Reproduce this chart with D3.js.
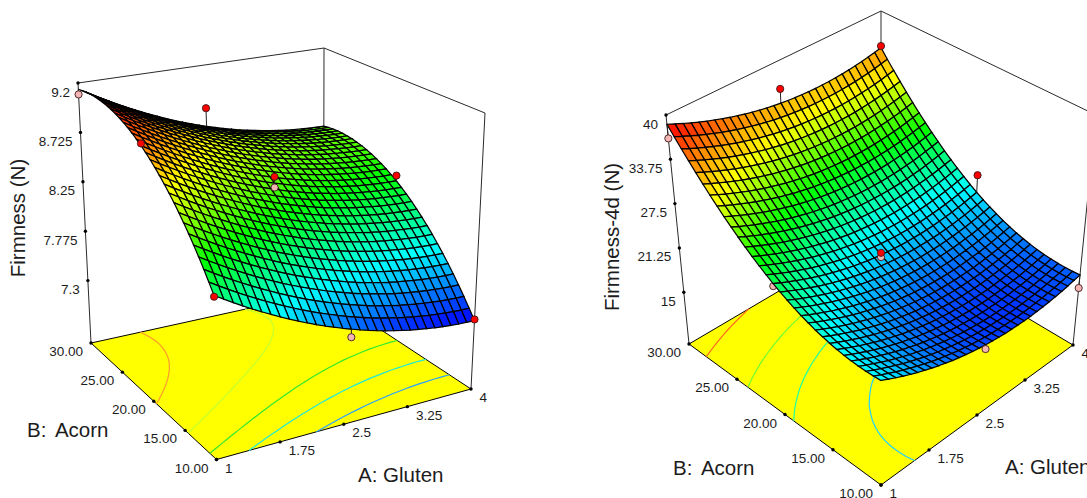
<!DOCTYPE html>
<html>
<head>
<meta charset="utf-8">
<script src="https://cdn.jsdelivr.net/npm/d3@7"></script>
<style>
	html, body { margin: 0; background: #fff; overflow: hidden; }
	text { font-family: "Liberation Sans", Arial, sans-serif; fill: #1c1c1c; white-space: pre; }
</style>
</head>
<body>
<svg id="chart" width="1087" height="498"></svg>
<script>
// rows run B = 10 -> 30, columns run A = 1 -> 4
const firmnessGrid = [
	[8.060,8.012,7.966,7.921,7.878,7.837,7.797,7.759,7.722,7.687,7.653,7.621,7.591,7.563,7.535,7.510,7.486,7.464,7.443,7.424,7.407,7.391,7.376,7.364,7.353,7.343,7.335,7.329,7.324,7.321,7.320],
	[8.141,8.093,8.047,8.002,7.959,7.918,7.878,7.840,7.803,7.768,7.734,7.702,7.672,7.644,7.616,7.591,7.567,7.545,7.524,7.505,7.488,7.472,7.457,7.445,7.434,7.424,7.416,7.410,7.405,7.402,7.401],
	[8.219,8.171,8.125,8.080,8.037,7.996,7.956,7.918,7.881,7.846,7.812,7.780,7.750,7.722,7.694,7.669,7.645,7.623,7.602,7.583,7.566,7.550,7.535,7.523,7.512,7.502,7.494,7.488,7.483,7.480,7.479],
	[8.294,8.246,8.200,8.155,8.112,8.071,8.031,7.993,7.956,7.921,7.887,7.855,7.825,7.797,7.769,7.744,7.720,7.698,7.677,7.658,7.641,7.625,7.610,7.598,7.587,7.577,7.569,7.563,7.558,7.555,7.554],
	[8.366,8.318,8.272,8.227,8.184,8.143,8.103,8.065,8.028,7.993,7.959,7.927,7.897,7.869,7.841,7.816,7.792,7.770,7.749,7.730,7.713,7.697,7.682,7.670,7.659,7.649,7.641,7.635,7.630,7.627,7.626],
	[8.434,8.386,8.340,8.295,8.252,8.211,8.171,8.133,8.096,8.061,8.027,7.995,7.965,7.937,7.909,7.884,7.860,7.838,7.817,7.798,7.781,7.765,7.750,7.738,7.727,7.717,7.709,7.703,7.698,7.695,7.694],
	[8.500,8.452,8.406,8.361,8.318,8.277,8.237,8.199,8.162,8.127,8.093,8.061,8.031,8.003,7.975,7.950,7.926,7.904,7.883,7.864,7.847,7.831,7.816,7.804,7.793,7.783,7.775,7.769,7.764,7.761,7.760],
	[8.562,8.514,8.468,8.423,8.380,8.339,8.299,8.261,8.224,8.189,8.155,8.123,8.093,8.065,8.037,8.012,7.988,7.966,7.945,7.926,7.909,7.893,7.878,7.866,7.855,7.845,7.837,7.831,7.826,7.823,7.822],
	[8.622,8.574,8.528,8.483,8.440,8.399,8.359,8.321,8.284,8.249,8.215,8.183,8.153,8.125,8.097,8.072,8.048,8.026,8.005,7.986,7.969,7.953,7.938,7.926,7.915,7.905,7.897,7.891,7.886,7.883,7.882],
	[8.678,8.630,8.584,8.539,8.496,8.455,8.415,8.377,8.340,8.305,8.271,8.239,8.209,8.181,8.153,8.128,8.104,8.082,8.061,8.042,8.025,8.009,7.994,7.982,7.971,7.961,7.953,7.947,7.942,7.939,7.938],
	[8.731,8.683,8.637,8.592,8.549,8.508,8.468,8.430,8.393,8.358,8.324,8.292,8.262,8.234,8.206,8.181,8.157,8.135,8.114,8.095,8.078,8.062,8.047,8.035,8.024,8.014,8.006,8.000,7.995,7.992,7.991],
	[8.781,8.733,8.687,8.642,8.599,8.558,8.518,8.480,8.443,8.408,8.374,8.342,8.312,8.284,8.256,8.231,8.207,8.185,8.164,8.145,8.128,8.112,8.097,8.085,8.074,8.064,8.056,8.050,8.045,8.042,8.041],
	[8.828,8.780,8.734,8.689,8.646,8.605,8.565,8.527,8.490,8.455,8.421,8.389,8.359,8.331,8.303,8.278,8.254,8.232,8.211,8.192,8.175,8.159,8.144,8.132,8.121,8.111,8.103,8.097,8.092,8.089,8.088],
	[8.872,8.824,8.778,8.733,8.690,8.649,8.609,8.571,8.534,8.499,8.465,8.433,8.403,8.375,8.347,8.322,8.298,8.276,8.255,8.236,8.219,8.203,8.188,8.176,8.165,8.155,8.147,8.141,8.136,8.133,8.132],
	[8.912,8.864,8.818,8.773,8.730,8.689,8.649,8.611,8.574,8.539,8.505,8.473,8.443,8.415,8.387,8.362,8.338,8.316,8.295,8.276,8.259,8.243,8.228,8.216,8.205,8.195,8.187,8.181,8.176,8.173,8.172],
	[8.950,8.902,8.856,8.811,8.768,8.727,8.687,8.649,8.612,8.577,8.543,8.511,8.481,8.453,8.425,8.400,8.376,8.354,8.333,8.314,8.297,8.281,8.266,8.254,8.243,8.233,8.225,8.219,8.214,8.211,8.210],
	[8.984,8.936,8.890,8.845,8.802,8.761,8.721,8.683,8.646,8.611,8.577,8.545,8.515,8.487,8.459,8.434,8.410,8.388,8.367,8.348,8.331,8.315,8.300,8.288,8.277,8.267,8.259,8.253,8.248,8.245,8.244],
	[9.016,8.968,8.922,8.877,8.834,8.793,8.753,8.715,8.678,8.643,8.609,8.577,8.547,8.519,8.491,8.466,8.442,8.420,8.399,8.380,8.363,8.347,8.332,8.320,8.309,8.299,8.291,8.285,8.280,8.277,8.276],
	[9.044,8.996,8.950,8.905,8.862,8.821,8.781,8.743,8.706,8.671,8.637,8.605,8.575,8.547,8.519,8.494,8.470,8.448,8.427,8.408,8.391,8.375,8.360,8.348,8.337,8.327,8.319,8.313,8.308,8.305,8.304],
	[9.069,9.021,8.975,8.930,8.887,8.846,8.806,8.768,8.731,8.696,8.662,8.630,8.600,8.572,8.544,8.519,8.495,8.473,8.452,8.433,8.416,8.400,8.385,8.373,8.362,8.352,8.344,8.338,8.333,8.330,8.329],
	[9.091,9.043,8.997,8.952,8.909,8.868,8.828,8.790,8.753,8.718,8.684,8.652,8.622,8.594,8.566,8.541,8.517,8.495,8.474,8.455,8.438,8.422,8.407,8.395,8.384,8.374,8.366,8.360,8.355,8.352,8.351],
	[9.110,9.062,9.016,8.971,8.928,8.887,8.847,8.809,8.772,8.737,8.703,8.671,8.641,8.613,8.585,8.560,8.536,8.514,8.493,8.474,8.457,8.441,8.426,8.414,8.403,8.393,8.385,8.379,8.374,8.371,8.370],
	[9.126,9.078,9.032,8.987,8.944,8.903,8.863,8.825,8.788,8.753,8.719,8.687,8.657,8.629,8.601,8.576,8.552,8.530,8.509,8.490,8.473,8.457,8.442,8.430,8.419,8.409,8.401,8.395,8.390,8.387,8.386],
	[9.138,9.090,9.044,8.999,8.956,8.915,8.875,8.837,8.800,8.765,8.731,8.699,8.669,8.641,8.613,8.588,8.564,8.542,8.521,8.502,8.485,8.469,8.454,8.442,8.431,8.421,8.413,8.407,8.402,8.399,8.398],
	[9.148,9.100,9.054,9.009,8.966,8.925,8.885,8.847,8.810,8.775,8.741,8.709,8.679,8.651,8.623,8.598,8.574,8.552,8.531,8.512,8.495,8.479,8.464,8.452,8.441,8.431,8.423,8.417,8.412,8.409,8.408],
	[9.154,9.106,9.060,9.015,8.972,8.931,8.891,8.853,8.816,8.781,8.747,8.715,8.685,8.657,8.629,8.604,8.580,8.558,8.537,8.518,8.501,8.485,8.470,8.458,8.447,8.437,8.429,8.423,8.418,8.415,8.414],
	[9.158,9.110,9.064,9.019,8.976,8.935,8.895,8.857,8.820,8.785,8.751,8.719,8.689,8.661,8.633,8.608,8.584,8.562,8.541,8.522,8.505,8.489,8.474,8.462,8.451,8.441,8.433,8.427,8.422,8.419,8.418],
	[9.158,9.110,9.064,9.019,8.976,8.935,8.895,8.857,8.820,8.785,8.751,8.719,8.689,8.661,8.633,8.608,8.584,8.562,8.541,8.522,8.505,8.489,8.474,8.462,8.451,8.441,8.433,8.427,8.422,8.419,8.418],
	[9.155,9.107,9.061,9.016,8.973,8.932,8.892,8.854,8.817,8.782,8.748,8.716,8.686,8.658,8.630,8.605,8.581,8.559,8.538,8.519,8.502,8.486,8.471,8.459,8.448,8.438,8.430,8.424,8.419,8.416,8.415],
	[9.149,9.101,9.055,9.010,8.967,8.926,8.886,8.848,8.811,8.776,8.742,8.710,8.680,8.652,8.624,8.599,8.575,8.553,8.532,8.513,8.496,8.480,8.465,8.453,8.442,8.432,8.424,8.418,8.413,8.410,8.409],
	[9.140,9.092,9.046,9.001,8.958,8.917,8.877,8.839,8.802,8.767,8.733,8.701,8.671,8.643,8.615,8.590,8.566,8.544,8.523,8.504,8.487,8.471,8.456,8.444,8.433,8.423,8.415,8.409,8.404,8.401,8.400]
]

const firmness4dGrid = [
	[21.65,21.15,20.68,20.23,19.81,19.41,19.04,18.69,18.37,18.07,17.79,17.55,17.32,17.12,16.95,16.80,16.68,16.58,16.50,16.45,16.43,16.43,16.45,16.50,16.58,16.68,16.80,16.95,17.13,17.33,17.55],
	[21.57,21.07,20.60,20.15,19.73,19.33,18.96,18.61,18.29,17.99,17.71,17.47,17.24,17.04,16.87,16.72,16.60,16.50,16.42,16.37,16.35,16.35,16.37,16.42,16.50,16.60,16.72,16.87,17.05,17.25,17.47],
	[21.54,21.04,20.57,20.12,19.70,19.30,18.93,18.58,18.26,17.96,17.68,17.44,17.21,17.01,16.84,16.69,16.57,16.47,16.39,16.34,16.32,16.32,16.34,16.39,16.47,16.57,16.69,16.84,17.02,17.22,17.44],
	[21.55,21.05,20.58,20.13,19.71,19.31,18.94,18.59,18.27,17.97,17.69,17.45,17.22,17.02,16.85,16.70,16.58,16.48,16.40,16.35,16.33,16.33,16.35,16.40,16.48,16.58,16.70,16.85,17.03,17.23,17.45],
	[21.60,21.10,20.63,20.18,19.76,19.36,18.99,18.64,18.32,18.02,17.74,17.50,17.27,17.07,16.90,16.75,16.63,16.53,16.45,16.40,16.38,16.38,16.40,16.45,16.53,16.63,16.75,16.90,17.08,17.28,17.50],
	[21.70,21.20,20.73,20.28,19.86,19.46,19.09,18.74,18.42,18.12,17.84,17.60,17.37,17.17,17.00,16.85,16.73,16.63,16.55,16.50,16.48,16.48,16.50,16.55,16.63,16.73,16.85,17.00,17.18,17.38,17.60],
	[21.84,21.34,20.87,20.42,20.00,19.60,19.23,18.88,18.56,18.26,17.98,17.74,17.51,17.31,17.14,16.99,16.87,16.77,16.69,16.64,16.62,16.62,16.64,16.69,16.77,16.87,16.99,17.14,17.32,17.52,17.74],
	[22.03,21.53,21.06,20.61,20.19,19.79,19.42,19.07,18.75,18.45,18.17,17.93,17.70,17.50,17.33,17.18,17.06,16.96,16.88,16.83,16.81,16.81,16.83,16.88,16.96,17.06,17.18,17.33,17.51,17.71,17.93],
	[22.27,21.77,21.30,20.85,20.43,20.03,19.66,19.31,18.99,18.69,18.41,18.17,17.94,17.74,17.57,17.42,17.30,17.20,17.12,17.07,17.05,17.05,17.07,17.12,17.20,17.30,17.42,17.57,17.75,17.95,18.17],
	[22.54,22.04,21.57,21.12,20.70,20.30,19.93,19.58,19.26,18.96,18.68,18.44,18.21,18.01,17.84,17.69,17.57,17.47,17.39,17.34,17.32,17.32,17.34,17.39,17.47,17.57,17.69,17.84,18.02,18.22,18.44],
	[22.87,22.37,21.90,21.45,21.03,20.63,20.26,19.91,19.59,19.29,19.01,18.77,18.54,18.34,18.17,18.02,17.90,17.80,17.72,17.67,17.65,17.65,17.67,17.72,17.80,17.90,18.02,18.17,18.35,18.55,18.77],
	[23.23,22.73,22.26,21.81,21.39,20.99,20.62,20.27,19.95,19.65,19.37,19.13,18.90,18.70,18.53,18.38,18.26,18.16,18.08,18.03,18.01,18.01,18.03,18.08,18.16,18.26,18.38,18.53,18.71,18.91,19.13],
	[23.65,23.15,22.68,22.23,21.81,21.41,21.04,20.69,20.37,20.07,19.79,19.55,19.32,19.12,18.95,18.80,18.68,18.58,18.50,18.45,18.43,18.43,18.45,18.50,18.58,18.68,18.80,18.95,19.13,19.33,19.55],
	[24.10,23.60,23.13,22.68,22.26,21.86,21.49,21.14,20.82,20.52,20.24,20.00,19.77,19.57,19.40,19.25,19.13,19.03,18.95,18.90,18.88,18.88,18.90,18.95,19.03,19.13,19.25,19.40,19.58,19.78,20.00],
	[24.60,24.10,23.63,23.18,22.76,22.36,21.99,21.64,21.32,21.02,20.74,20.50,20.27,20.07,19.90,19.75,19.63,19.53,19.45,19.40,19.38,19.38,19.40,19.45,19.53,19.63,19.75,19.90,20.08,20.28,20.50],
	[25.15,24.65,24.18,23.73,23.31,22.91,22.54,22.19,21.87,21.57,21.29,21.05,20.82,20.62,20.45,20.30,20.18,20.08,20.00,19.95,19.93,19.93,19.95,20.00,20.08,20.18,20.30,20.45,20.63,20.83,21.05],
	[25.74,25.24,24.77,24.32,23.90,23.50,23.13,22.78,22.46,22.16,21.88,21.64,21.41,21.21,21.04,20.89,20.77,20.67,20.59,20.54,20.52,20.52,20.54,20.59,20.67,20.77,20.89,21.04,21.22,21.42,21.64],
	[26.38,25.88,25.41,24.96,24.54,24.14,23.77,23.42,23.10,22.80,22.52,22.28,22.05,21.85,21.68,21.53,21.41,21.31,21.23,21.18,21.16,21.16,21.18,21.23,21.31,21.41,21.53,21.68,21.86,22.06,22.28],
	[27.06,26.56,26.09,25.64,25.22,24.82,24.45,24.10,23.78,23.48,23.20,22.96,22.73,22.53,22.36,22.21,22.09,21.99,21.91,21.86,21.84,21.84,21.86,21.91,21.99,22.09,22.21,22.36,22.54,22.74,22.96],
	[27.78,27.28,26.81,26.36,25.94,25.54,25.17,24.82,24.50,24.20,23.92,23.68,23.45,23.25,23.08,22.93,22.81,22.71,22.63,22.58,22.56,22.56,22.58,22.63,22.71,22.81,22.93,23.08,23.26,23.46,23.68],
	[28.55,28.05,27.58,27.13,26.71,26.31,25.94,25.59,25.27,24.97,24.69,24.45,24.22,24.02,23.85,23.70,23.58,23.48,23.40,23.35,23.33,23.33,23.35,23.40,23.48,23.58,23.70,23.85,24.03,24.23,24.45],
	[29.36,28.86,28.39,27.94,27.52,27.12,26.75,26.40,26.08,25.78,25.50,25.26,25.03,24.83,24.66,24.51,24.39,24.29,24.21,24.16,24.14,24.14,24.16,24.21,24.29,24.39,24.51,24.66,24.84,25.04,25.26],
	[30.22,29.72,29.25,28.80,28.38,27.98,27.61,27.26,26.94,26.64,26.36,26.12,25.89,25.69,25.52,25.37,25.25,25.15,25.07,25.02,25.00,25.00,25.02,25.07,25.15,25.25,25.37,25.52,25.70,25.90,26.12],
	[31.13,30.63,30.16,29.71,29.29,28.89,28.52,28.17,27.85,27.55,27.27,27.03,26.80,26.60,26.43,26.28,26.16,26.06,25.98,25.93,25.91,25.91,25.93,25.98,26.06,26.16,26.28,26.43,26.61,26.81,27.03],
	[32.07,31.57,31.10,30.65,30.23,29.83,29.46,29.11,28.79,28.49,28.21,27.97,27.74,27.54,27.37,27.22,27.10,27.00,26.92,26.87,26.85,26.85,26.87,26.92,27.00,27.10,27.22,27.37,27.55,27.75,27.97],
	[33.07,32.57,32.10,31.65,31.23,30.83,30.46,30.11,29.79,29.49,29.21,28.97,28.74,28.54,28.37,28.22,28.10,28.00,27.92,27.87,27.85,27.85,27.87,27.92,28.00,28.10,28.22,28.37,28.55,28.75,28.97],
	[34.10,33.60,33.13,32.68,32.26,31.86,31.49,31.14,30.82,30.52,30.24,30.00,29.77,29.57,29.40,29.25,29.13,29.03,28.95,28.90,28.88,28.88,28.90,28.95,29.03,29.13,29.25,29.40,29.58,29.78,30.00],
	[35.19,34.69,34.22,33.77,33.35,32.95,32.58,32.23,31.91,31.61,31.33,31.09,30.86,30.66,30.49,30.34,30.22,30.12,30.04,29.99,29.97,29.97,29.99,30.04,30.12,30.22,30.34,30.49,30.67,30.87,31.09],
	[36.31,35.81,35.34,34.89,34.47,34.07,33.70,33.35,33.03,32.73,32.45,32.21,31.98,31.78,31.61,31.46,31.34,31.24,31.16,31.11,31.09,31.09,31.11,31.16,31.24,31.34,31.46,31.61,31.79,31.99,32.21],
	[37.48,36.98,36.51,36.06,35.64,35.24,34.87,34.52,34.20,33.90,33.62,33.38,33.15,32.95,32.78,32.63,32.51,32.41,32.33,32.28,32.26,32.26,32.28,32.33,32.41,32.51,32.63,32.78,32.96,33.16,33.38],
	[38.70,38.20,37.73,37.28,36.86,36.46,36.09,35.74,35.42,35.12,34.84,34.60,34.37,34.17,34.00,33.85,33.73,33.63,33.55,33.50,33.48,33.48,33.50,33.55,33.63,33.73,33.85,34.00,34.18,34.38,34.60]
]

const glutenTicks = ["1", "1.75", "2.5", "3.25", "4"]
const acornTicks = ["10.00", "15.00", "20.00", "25.00", "30.00"]
const firmnessTicks = ["9.2", "8.725", "8.25", "7.775", "7.3"]
const firmness4dTicks = ["40", "33.75", "27.5", "21.25", "15"]

const firmnessLevels = [8.88, 8.5, 8.17, 7.9, 7.62]
const firmnessLevelColors = ["#ff9a2e", "#c4ff30", "#30e830", "#20e8d8", "#2aa0ff"]
const firmness4dLevels = [35.2, 28.6, 24, 19.5]
const firmness4dLevelColors = ["#ff6a20", "#70ff30", "#20ffa0", "#20d0ff"]

// design points, red sit above the surface, pink below
const firmnessPointA = [2.5, 1, 1, 2.5, 2.5, 4, 4, 2.5, 1]
const firmnessPointB = [30, 30, 20, 20, 20, 20, 10, 10, 10]
const firmnessPointZ = [8.77, 9.09, 8.97, 8.36, 8.46, 8.26, 7.33, 7.44, 8.05]
const firmnessPointAbove = [true, false, true, false, true, true, true, false, true]

const firmness4dPointA = [2.5, 4, 1, 4, 2.5, 2.5, 1, 2.5, 4]
const firmness4dPointB = [30, 30, 30, 20, 20, 20, 20, 10, 10]
const firmness4dPointZ = [35.9, 34.86, 36.7, 23.5, 20, 20.6, 24.8, 16.2, 15.7]
const firmness4dPointAbove = [true, true, false, true, false, true, false, false, false]

const heatColors = ["#0000ff", "#00ffff", "#00ff00", "#ffff00", "#ff0000"]

const svg = d3.select("#chart")

// unit square -> pixel quad, corners as [A low B low, A high B low, A low B high, A high B high]
function quadMap([p00, p10, p01, p11]) {
	const dx1 = p10[0] - p11[0], dx2 = p01[0] - p11[0], sx = p00[0] - p10[0] + p11[0] - p01[0]
	const dy1 = p10[1] - p11[1], dy2 = p01[1] - p11[1], sy = p00[1] - p10[1] + p11[1] - p01[1]
	const den = dx1 * dy2 - dx2 * dy1
	const g = (sx * dy2 - dx2 * sy) / den
	const h = (dx1 * sy - sx * dy1) / den
	return (u, v) => {
		const w = g * u + h * v + 1
		return [
			((p10[0] - p00[0] + g * p10[0]) * u + (p01[0] - p00[0] + h * p01[0]) * v + p00[0]) / w,
			((p10[1] - p00[1] + g * p10[1]) * u + (p01[1] - p00[1] + h * p01[1]) * v + p00[1]) / w
		]
	}
}

function drawPanel(panel) {
	const root = svg.append("g")
	const {grid, floor, top} = panel

	const aScale = d3.scaleLinear().domain([1, 4]).range([0, 1])
	const bScale = d3.scaleLinear().domain([10, 30]).range([0, 1])
	const zScale = d3.scaleLinear().domain(panel.zRange).range([0, 1])
	const colorScale = d3.scaleLinear().domain(panel.colorDomain).range(heatColors).clamp(true)

	const floorMap = quadMap(floor)
	const topMap = quadMap(top)
	const project = (a, b, z) => {
		const u = aScale(a), v = bScale(b), t = zScale(z)
		const p0 = floorMap(u, v), p1 = topMap(u, v)
		return [p0[0] + (p1[0] - p0[0]) * t, p0[1] + (p1[1] - p0[1]) * t]
	}

	const lastIndex = grid.length - 1
	const gridA = d3.scaleLinear().domain([0, lastIndex]).range([1, 4])
	const gridB = d3.scaleLinear().domain([0, lastIndex]).range([10, 30])
	const zFloor = panel.zRange[0]
	const pathLine = d3.line()

	// box
	root.append("path")
		.attr("d", pathLine([floor[2], top[2], top[3], top[1], floor[1]]))
		.attr("fill", "none").attr("stroke", "#2a2a2a").attr("stroke-width", 1)
	root.append("path")
		.attr("d", pathLine([floor[3], top[3]]))
		.attr("fill", "none").attr("stroke", "#2a2a2a").attr("stroke-width", 1)

	// yellow base
	root.append("path")
		.attr("d", pathLine([floor[0], floor[1], floor[3], floor[2]]) + "Z")
		.attr("fill", "#ffff00").attr("stroke", "#000").attr("stroke-width", 1)

	// contour lines on the base
	const contours = d3.contours().size([lastIndex + 1, lastIndex + 1]).thresholds(panel.levels)(grid.flat())
	const rim = lastIndex + 1
	contours.forEach(contour => {
		const color = panel.levelColors[panel.levels.indexOf(contour.value)]
		contour.coordinates.forEach(polygon => polygon.forEach(ring => {
			let run = []
			const pieces = [run]
			ring.forEach(([x, y]) => {
				if (x <= 0 || y <= 0 || x >= rim || y >= rim) {
					run = []
					pieces.push(run)
				} else {
					run.push(project(gridA(x - 0.5), gridB(y - 0.5), zFloor))
				}
			})
			root.append("g").selectAll("path")
				.data(pieces.filter(d => d.length > 1))
				.join("path")
					.attr("d", d => pathLine(d))
					.attr("fill", "none")
					.attr("stroke", color)
					.attr("stroke-width", 1.2)
		}))
	})

	// axis ticks are evenly spaced along the base edges
	const axisLayer = root.append("g")
	const drawTicks = (labels, scale, dx, dy, anchor) => {
		const ticks = axisLayer.append("g").selectAll("g")
			.data(labels)
			.join("g")
				.attr("transform", d => `translate(${scale(+d)})`)
		ticks.append("circle").attr("r", 1.7).attr("fill", "#000")
		ticks.append("text")
			.attr("x", dx)
			.attr("y", dy)
			.attr("text-anchor", anchor)
			.attr("font-size", 13.5)
			.text(d => d)
	}
	drawTicks(glutenTicks, d3.scaleLinear().domain([1, 4]).range([floor[0], floor[1]]), 8.5, 13, "start")
	drawTicks(acornTicks, d3.scaleLinear().domain([10, 30]).range([floor[0], floor[2]]), -8, 13, "end")
	drawTicks(panel.zTicks, d3.scaleLinear().domain(panel.zRange).range([floor[2], top[2]]), -8, 13.5, "end")

	const behindSurface = (d) => panel.behind.includes(d.index)
	const points = panel.pointA.map((a, index) => ({
		index, a, b: panel.pointB[index], z: panel.pointZ[index], above: panel.pointAbove[index]
	}))
	const drawPoints = (selection) => {
		selection.append("g").selectAll("line")
			.data(d => [d])
			.join("line")
				.each(function(d) {
					const i = Math.round(aScale(d.a) * lastIndex)
					const j = Math.round(bScale(d.b) * lastIndex)
					const from = project(d.a, d.b, d.z)
					const to = project(d.a, d.b, grid[j][i])
					d3.select(this)
						.attr("x1", from[0]).attr("y1", from[1])
						.attr("x2", to[0]).attr("y2", to[1])
				})
				.attr("stroke", "#222")
				.attr("stroke-width", 1)
		selection.append("circle")
			.attr("cx", d => project(d.a, d.b, d.z)[0])
			.attr("cy", d => project(d.a, d.b, d.z)[1])
			.attr("r", 3.6)
			.attr("fill", d => d.above ? "#ff0000" : "#f4b6b4")
			.attr("stroke", "#3a1a1a")
			.attr("stroke-width", 0.9)
	}

	root.append("g").selectAll("g")
		.data(points.filter(behindSurface))
		.join("g")
		.call(drawPoints)

	// surface, back corner first so nearer cells paint over
	const cells = []
	for (let j = lastIndex - 1; j >= 0; j--) {
		for (let i = lastIndex - 1; i >= 0; i--) {
			cells.push({
				corners: [
					project(gridA(i), gridB(j), grid[j][i]),
					project(gridA(i + 1), gridB(j), grid[j][i + 1]),
					project(gridA(i + 1), gridB(j + 1), grid[j + 1][i + 1]),
					project(gridA(i), gridB(j + 1), grid[j + 1][i])
				],
				value: (grid[j][i] + grid[j][i + 1] + grid[j + 1][i + 1] + grid[j + 1][i]) / 4
			})
		}
	}
	root.append("g").selectAll("path")
		.data(cells)
		.join("path")
			.attr("d", d => pathLine(d.corners) + "Z")
			.attr("fill", d => colorScale(d.value))
			.attr("stroke", "#000")
			.attr("stroke-width", 1.25)

	root.append("g").selectAll("g")
		.data(points.filter(d => !behindSurface(d)))
		.join("g")
		.call(drawPoints)

	// titles
	panel.titles.forEach(t => {
		root.append("text")
			.attr("transform", `translate(${t.x},${t.y}) rotate(${t.rotate || 0})`)
			.attr("text-anchor", t.anchor || "start")
			.attr("font-size", 20.5)
			.attr("word-spacing", t.gap || 0)
			.text(t.text)
	})
}

drawPanel({
	grid: firmnessGrid,
	floor: [[216.5, 459.5], [471, 389], [91, 343], [323.5, 292]],
	top: [[212, 158], [485, 113], [78, 83], [324, 48]],
	zRange: [6.7, 9.2],
	colorDomain: [7.32, 7.8, 8.25, 8.7, 9.16],
	levels: firmnessLevels,
	levelColors: firmnessLevelColors,
	zTicks: firmnessTicks,
	pointA: firmnessPointA, pointB: firmnessPointB, pointZ: firmnessPointZ, pointAbove: firmnessPointAbove,
	behind: [],
	titles: [
		{text: "Firmness (N)", x: 25, y: 218, rotate: -90, anchor: "middle"},
		{text: "B: Acorn", x: 27, y: 437, gap: 4},
		{text: "A: Gluten", x: 358, y: 482}
	]
})

drawPanel({
	grid: firmness4dGrid,
	floor: [[881, 485], [1073, 345], [689, 344], [881, 231]],
	top: [[881, 243], [1096, 115], [666, 115], [881, 11]],
	zRange: [7.7, 40],
	colorDomain: [15, 21.5, 26.5, 31.5, 38.5],
	levels: firmness4dLevels,
	levelColors: firmness4dLevelColors,
	zTicks: firmness4dTicks,
	pointA: firmness4dPointA, pointB: firmness4dPointB, pointZ: firmness4dPointZ, pointAbove: firmness4dPointAbove,
	behind: [6],
	titles: [
		{text: "Firmness-4d (N)", x: 619, y: 237, rotate: -90, anchor: "middle"},
		{text: "B: Acorn", x: 673, y: 475, gap: 4},
		{text: "A: Gluten", x: 1005, y: 474}
	]
})
</script>
</body>
</html>
